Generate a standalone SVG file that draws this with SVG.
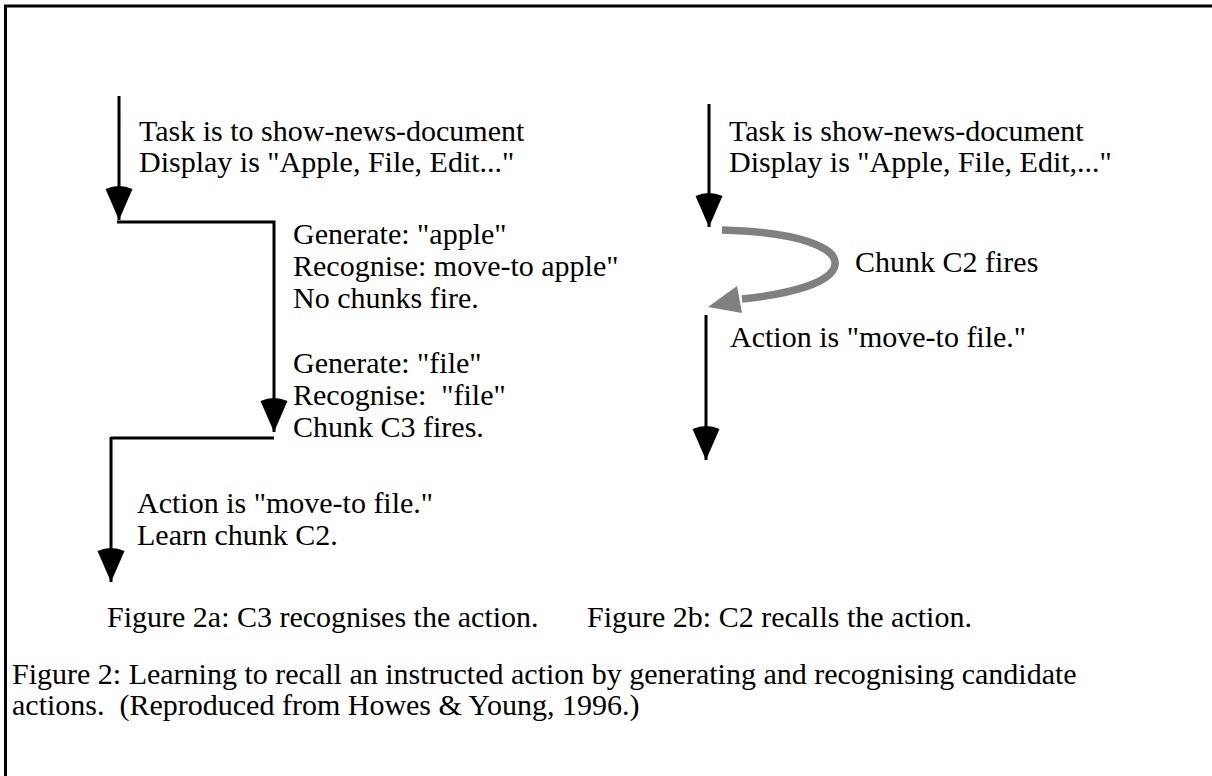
<svg xmlns="http://www.w3.org/2000/svg" width="1212" height="776" viewBox="0 0 1212 776">
<style>
text{font-family:"Liberation Serif","Times New Roman",serif;font-size:30px;fill:#000}
.ln{fill:none;stroke:#000;stroke-width:3}
.ar{marker-end:url(#ah)}
</style>
<defs>
<marker id="ah" markerUnits="userSpaceOnUse" viewBox="0 0 37 28" refX="36" refY="14" markerWidth="37" markerHeight="28" orient="auto">
<path d="M36,14 L5,0.5 Q-1,14 5,27.5 Z" fill="#000"/>
</marker>
</defs>
<rect width="1212" height="776" fill="#fff"/>
<g id="frame">
<path d="M5.5,776 V6 H1212" class="ln"/>
</g>
<g id="connectors">
<path class="ln ar" d="M119,96 V220"/>
<path class="ln ar" d="M117,222 H274 V432"/>
<path class="ln ar" d="M111,438 H274 M111,437 V582"/>
<path class="ln ar" d="M709,104 V227"/>
<path class="ln ar" d="M706,315 V460"/>
<g id="chunk-c2-arrow">
<path d="M722,230 C800,232 838,248 835,265 C832,283 790,294 742,299" fill="none" stroke="#808080" stroke-width="7.5"/>
<polygon points="708,307 737,286 742,313" fill="#808080"/>
</g>
</g>
<g id="left-top"><text x="139" y="141">Task is to show-news-document</text><text x="139" y="172">Display is "Apple, File, Edit..."</text></g>
<g id="left-apple"><text x="293" y="244">Generate: "apple"</text><text x="293" y="276">Recognise: move-to apple"</text><text x="293" y="308">No chunks fire.</text></g>
<g id="left-file"><text x="293" y="373">Generate: "file"</text><text x="293" y="405" xml:space="preserve">Recognise:  "file"</text><text x="293" y="437">Chunk C3 fires.</text></g>
<g id="left-action"><text x="137" y="513">Action is "move-to file."</text><text x="137" y="545">Learn chunk C2.</text></g>
<g id="right-top"><text x="729" y="141">Task is show-news-document</text><text x="729" y="172">Display is "Apple, File, Edit,..."</text></g>
<g id="right-chunk"><text x="855" y="272">Chunk C2 fires</text></g>
<g id="right-action"><text x="730" y="347">Action is "move-to file."</text></g>
<g id="captions">
<text x="107" y="627">Figure 2a: C3 recognises the action.</text>
<text x="587" y="627">Figure 2b: C2 recalls the action.</text>
<text x="12" y="684">Figure 2: Learning to recall an instructed action by generating and recognising candidate</text>
<text x="12" y="715" xml:space="preserve">actions.  (Reproduced from Howes &amp; Young, 1996.)</text>
</g>
</svg>
